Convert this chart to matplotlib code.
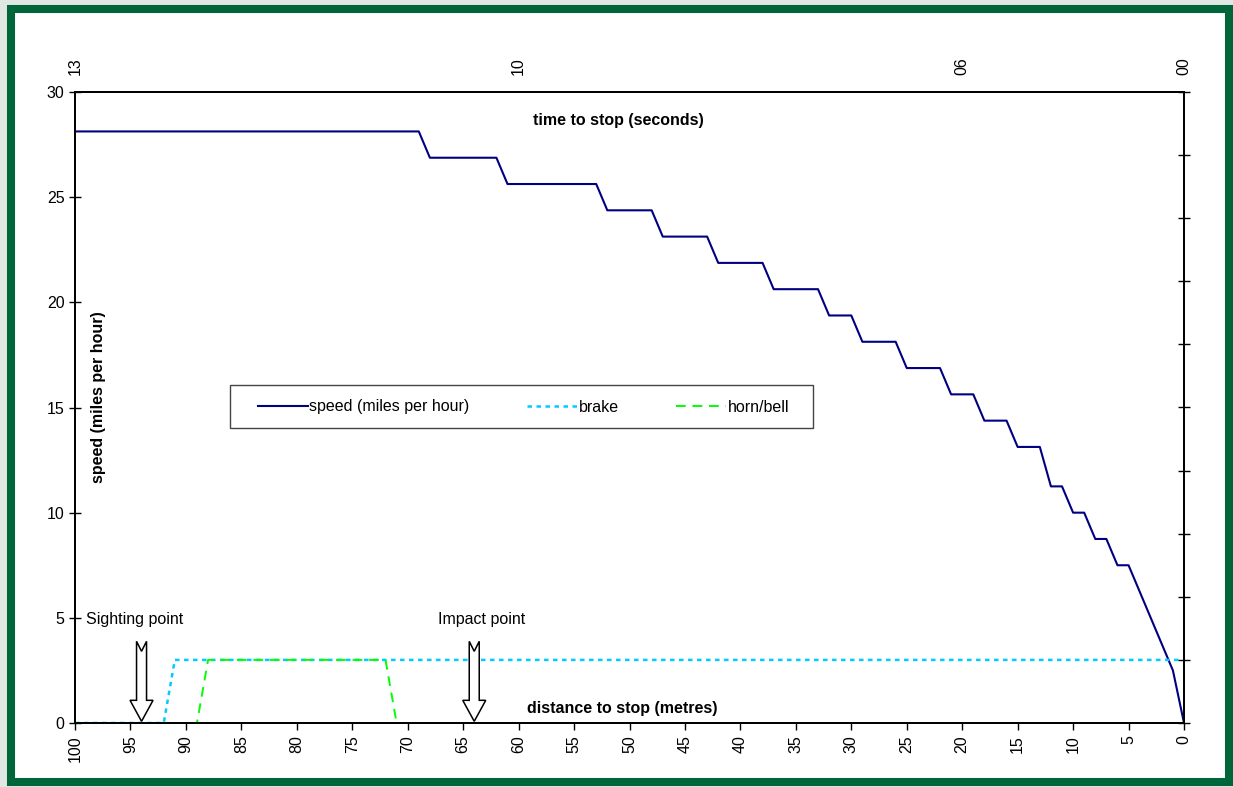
import matplotlib
matplotlib.use("Agg")
import matplotlib.pyplot as plt
import matplotlib.patches as mpatches
import matplotlib.transforms as mtransforms

plt.rcParams['font.family'] = ['Liberation Sans', 'DejaVu Sans']
plt.rcParams['font.size'] = 11

# ---- data ----
speed_dist = [100, 69, 68, 62, 61, 53, 52, 48, 47, 43, 42, 38, 37, 33, 32, 30, 29, 26,
              25, 22, 21, 19, 18, 16, 15, 13, 12, 11, 10, 9, 8, 7, 6, 5, 1, 0]
speed_mph = [28.125, 28.125, 26.875, 26.875, 25.625, 25.625, 24.375, 24.375, 23.125, 23.125,
             21.875, 21.875, 20.625, 20.625, 19.375, 19.375, 18.125, 18.125, 16.875, 16.875,
             15.625, 15.625, 14.375, 14.375, 13.125, 13.125, 11.25, 11.25, 10.0, 10.0,
             8.75, 8.75, 7.5, 7.5, 2.5, 0.0]
brake_dist = [100, 92, 91, 0]
brake_val = [0, 0, 3, 3]
horn_dist = [100, 89, 88, 72, 71, 0]
horn_val = [0, 0, 3, 3, 0, 0]

dist_ticks = list(range(100, -1, -5))
time_tick_pos = [100, 60, 20, 0]
time_tick_labels = ['13', '10', '06', '00']
speed_ticks = [0, 5, 10, 15, 20, 25, 30]
right_ticks = list(range(0, 31, 3))

markers = [("Sighting point", 94, 94.6), ("Impact point", 64, 63.3)]

W, H = 1233, 787
fig = plt.figure(figsize=(W / 100, H / 100), dpi=100, facecolor='#dfe8e3')

# green frame
frame = mpatches.Rectangle((11 / W, 1 - 782 / H), (1229 - 11) / W, (782 - 9) / H,
                           transform=fig.transFigure, facecolor='white',
                           edgecolor='#00663A', linewidth=5.8, zorder=-10)
fig.patches.append(frame)

AXW, AXH = 1184 - 75, 723 - 92
ax = fig.add_axes([75 / W, 1 - 723 / H, AXW / W, AXH / H])
ax.set_facecolor('none')

l1, = ax.plot(speed_dist, speed_mph, color='#000080', lw=1.5, label='speed (miles per hour)', zorder=3)
l2, = ax.plot(brake_dist, brake_val, color='#00CCFF', lw=1.8, ls=(0, (1.8, 1.8)), label='brake', zorder=4)
l3, = ax.plot(horn_dist, horn_val, color='#00FF00', lw=1.4, ls=(0, (5, 3.5)), label='horn/bell', zorder=5)

ax.set_xlim(100, 0)
ax.set_ylim(0, 30)
ax.set_xticks(dist_ticks)
ax.set_xticklabels([str(t) for t in dist_ticks], rotation=90)
ax.set_yticks(speed_ticks)
ax.tick_params(axis='x', direction='out', length=5, width=1, pad=4, labelsize=11.5)
ax.tick_params(axis='y', direction='inout', length=9, width=1, pad=3, labelsize=11.5)
for s in ax.spines.values():
    s.set_color('black')
    s.set_linewidth(1.2)

# top time axis
axt = ax.twiny()
axt.set_xlim(100, 0)
axt.set_xticks(time_tick_pos)
axt.set_xticklabels(time_tick_labels, rotation=90)
axt.tick_params(axis='x', length=0, pad=12, labelsize=11.5)

# right axis ticks
axr = ax.twinx()
axr.set_ylim(0, 30)
axr.set_yticks(right_ticks)
axr.set_yticklabels([])
axr.tick_params(axis='y', direction='inout', length=9, width=1)
for a in (axt, axr):
    for s in a.spines.values():
        s.set_color('black')
        s.set_linewidth(1.2)

# axis titles inside plot
ax.text((98 - 75) / AXW, (723 - 397) / AXH, 'speed (miles per hour)', transform=ax.transAxes,
        rotation=90, ha='center', va='center', fontsize=11.5, fontweight='bold')
ax.text((618 - 75) / AXW, (723 - 121) / AXH, 'time to stop (seconds)', transform=ax.transAxes,
        ha='center', va='center', fontsize=11.5, fontweight='bold')
ax.text((622 - 75) / AXW, (723 - 708) / AXH, 'distance to stop (metres)', transform=ax.transAxes,
        ha='center', va='center', fontsize=11.5, fontweight='bold')

# arrows + labels
arrow_px = [(0, 0), (11.5, 21), (5, 21), (5, 80), (0, 70), (-5, 80), (-5, 21), (-11.5, 21)]
for label, xpos, tx in markers:
    trans = fig.dpi_scale_trans + mtransforms.ScaledTranslation(xpos, 0.08, ax.transData)
    poly = mpatches.Polygon([(px / 100, py / 100) for px, py in arrow_px], closed=True,
                            facecolor='white', edgecolor='black', lw=1.1, transform=trans,
                            zorder=6, clip_on=False)
    ax.add_patch(poly)
    ax.text(tx, 4.9, label, ha='center', va='center', fontsize=11.5, zorder=7)

# legend box drawn separately, legend entries without frame
box = mpatches.Rectangle(((230 - 75) / AXW, (723 - 428) / AXH), 583 / AXW, 43 / AXH,
                         transform=ax.transAxes, facecolor='white', edgecolor='#444444',
                         lw=1.0, zorder=8)
ax.add_patch(box)
leg = ax.legend(handles=[l1, l2, l3], ncol=3, loc='center left',
                bbox_to_anchor=((258 - 75) / AXW, (723 - 407) / AXH),
                frameon=False, handlelength=3.1, handletextpad=0.12, borderaxespad=0,
                borderpad=0, fontsize=11.5, columnspacing=3.6)
leg.set_zorder(9)

fig.savefig('out.png', dpi=100, facecolor=fig.get_facecolor())
